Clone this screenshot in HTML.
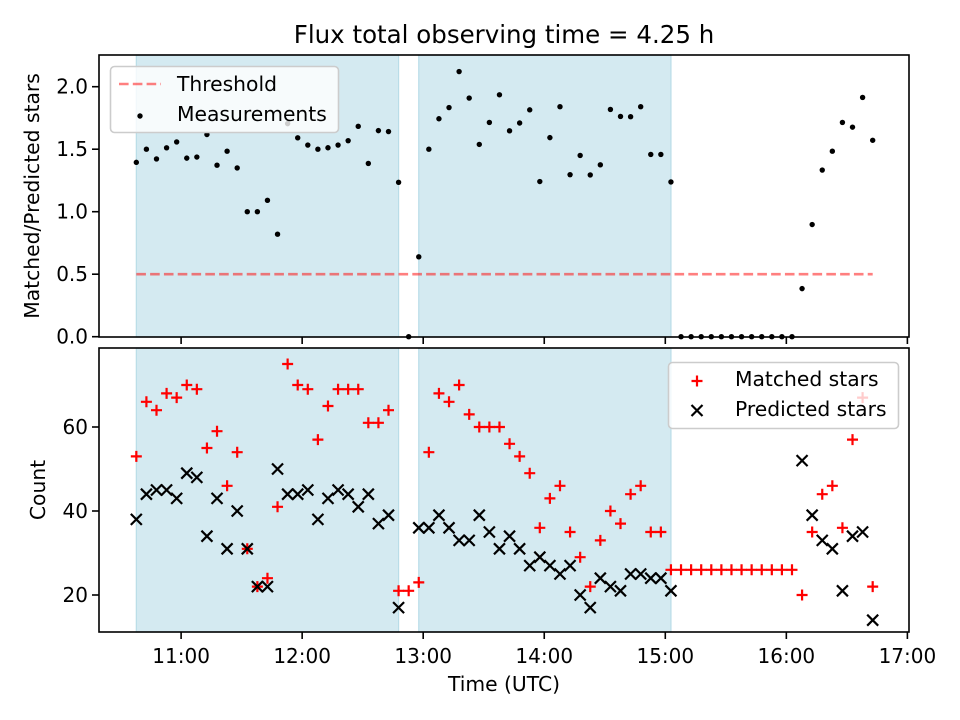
<!DOCTYPE html>
<html><head><meta charset="utf-8">
<style>
html,body{margin:0;padding:0;background:#fff;}
svg{display:block;font-family:"DejaVu Sans","Liberation Sans",sans-serif;}
</style></head>
<body>
<svg id="chart" width="960" height="720" viewBox="0 0 960 720" xmlns="http://www.w3.org/2000/svg">
<text x="504" y="43" font-size="24.5" text-anchor="middle">Flux total observing time = 4.25 h</text>
<g id="topPanel"></g>
<g id="botPanel"></g>
<text x="504" y="691" font-size="20.3" text-anchor="middle">Time (UTC)</text>
<text transform="translate(39,196) rotate(-90)" font-size="20.3" text-anchor="middle">Matched/Predicted stars</text>
<text transform="translate(45,490) rotate(-90)" font-size="20.3" text-anchor="middle">Count</text>
</svg>
<script>
// minutes after 10:00 for first sample, sampling step (min)
const startMinute = 37.8;
const stepMinutes = 5;
const matched = [53,66,64,68,67,70,69,55,59,46,54,31,22,24,41,75,70,69,57,65,69,69,69,61,61,64,21,
  21,
  23,54,68,66,70,63,60,60,60,56,53,49,36,43,46,35,29,22,33,40,37,44,46,35,35,26,
  26,26,26,26,26,26,26,26,26,26,26,26,
  20,35,44,46,36,57,67,22];
const predicted = [38,44,45,45,43,49,48,34,43,31,40,31,22,22,50,44,44,45,38,43,45,44,41,44,37,39,17,
  null,
  36,36,39,36,33,33,39,35,31,34,31,27,29,27,25,27,20,17,24,22,21,25,25,24,24,21,
  null,null,null,null,null,null,null,null,null,null,null,null,
  52,39,33,31,21,34,35,14];
const threshold = 0.5;
const spanStarts = [37.8, 177.8];
const spanEnds = [167.8, 302.8];
const xTickMinutes = [60,120,180,240,300,360,420];
const xTickLabels = ["11:00","12:00","13:00","14:00","15:00","16:00","17:00"];
const topYTicks = [0,0.5,1.0,1.5,2.0];
const topYTickLabels = ["0.0","0.5","1.0","1.5","2.0"];
const botYTicks = [20,40,60];
const botYTickLabels = ["20","40","60"];

const NS="http://www.w3.org/2000/svg";
const L=99,R=909;
const T1=55,B1=337,T2=348,B2=632;
const xMin=19.3,xMax=420.8;
function x(t){return L+(t-xMin)/(xMax-xMin)*(R-L);}
function yTop(v){return 336.7-v*125;}
function yBot(v){return 679-v*4.2;}
function mk(tag,attrs,parent){const e=document.createElementNS(NS,tag);for(const k in attrs)e.setAttribute(k,attrs[k]);parent.appendChild(e);return e;}
const times=matched.map((_,i)=>startMinute+i*stepMinutes);
const ratio=matched.map((m,i)=>predicted[i]?m/predicted[i]:0);

function axes(g,T,B,name){
  for(let i=0;i<spanStarts.length;i++){
    const r=mk('rect',{x:x(spanStarts[i]),y:T,width:x(spanEnds[i])-x(spanStarts[i]),height:B-T,fill:'#d4eaf1',stroke:'#b9dde8','stroke-width':1.2},g);
    
    
  }
  xTickMinutes.forEach((t,i)=>{
    mk('line',{x1:x(t),x2:x(t),y1:B,y2:B+7,stroke:'#000','stroke-width':1.6},g);
  });
}
const gTop=document.getElementById('topPanel'), gBot=document.getElementById('botPanel');
axes(gTop,T1,B1,'top');
axes(gBot,T2,B2,'bottom');

const th=mk('line',{x1:x(times[0]),x2:x(times[times.length-1]),y1:yTop(threshold),y2:yTop(threshold),stroke:'#ff0000','stroke-opacity':0.5,'stroke-width':2.6,'stroke-dasharray':'9.6,4.2'},gTop);


ratio.forEach((v,i)=>{
  const c=mk('circle',{cx:x(times[i]),cy:yTop(v),r:2.7,fill:'#000'},gTop);
  
  
});
matched.forEach((v,i)=>{
  const cx=x(times[i]),cy=yBot(v),s=5.5;
  const p=mk('path',{d:`M${cx-s},${cy}H${cx+s}M${cx},${cy-s}V${cy+s}`,stroke:'#ff0000','stroke-width':2.2,fill:'none'},gBot);
  
  
});
predicted.forEach((v,i)=>{
  if(v===null)return;
  const cx=x(times[i]),cy=yBot(v),s=5.5;
  const p=mk('path',{d:`M${cx-s},${cy-s}L${cx+s},${cy+s}M${cx-s},${cy+s}L${cx+s},${cy-s}`,stroke:'#000','stroke-width':2.2,fill:'none'},gBot);
  
  
});

function frame(g,T,B,ticks,labels,yf,name){
  mk('rect',{x:L,y:T,width:R-L,height:B-T,fill:'none',stroke:'#000','stroke-width':1.6},g);
  ticks.forEach((v,i)=>{
    mk('line',{x1:L-7,x2:L,y1:yf(v),y2:yf(v),stroke:'#000','stroke-width':1.6},g);
    const t=mk('text',{x:L-11,y:yf(v)+7,'font-size':20,'text-anchor':'end'},g);
    t.textContent=labels[i];
    
    
  });
}
frame(gTop,T1,B1,topYTicks,topYTickLabels,yTop,'top');
frame(gBot,T2,B2,botYTicks,botYTickLabels,yBot,'bottom');
xTickMinutes.forEach((t,i)=>{
  const tx=mk('text',{x:x(t),y:663,'font-size':20,'text-anchor':'middle'},gBot);
  tx.textContent=xTickLabels[i];
  
  
});

const lg1=mk('g',{},gTop);


mk('rect',{x:110.5,y:66.5,width:228,height:66,rx:4,fill:'#fff','fill-opacity':0.8,stroke:'#cccccc','stroke-width':1.6},lg1);
mk('line',{x1:119,x2:161,y1:84,y2:84,stroke:'#ff0000','stroke-opacity':0.5,'stroke-width':2.6,'stroke-dasharray':'9.6,4.2'},lg1);
let t1=mk('text',{x:177,y:91,'font-size':20.3},lg1);t1.textContent='Threshold';
mk('circle',{cx:140,cy:116,r:2.7,fill:'#000'},lg1);
let t2=mk('text',{x:177,y:121,'font-size':20.3},lg1);t2.textContent='Measurements';

const lg2=mk('g',{},gBot);


mk('rect',{x:668.5,y:362.5,width:230,height:66,rx:4,fill:'#fff','fill-opacity':0.8,stroke:'#cccccc','stroke-width':1.6},lg2);
mk('path',{d:'M691.5,381H702.5M697,375.5V386.5',stroke:'#ff0000','stroke-width':2.2},lg2);
let t3=mk('text',{x:735,y:386,'font-size':20.3},lg2);t3.textContent='Matched stars';
mk('path',{d:'M691.5,405L702.5,416M691.5,416L702.5,405',stroke:'#000','stroke-width':2.2},lg2);
let t4=mk('text',{x:735,y:416,'font-size':20.3},lg2);t4.textContent='Predicted stars';
</script>
</body></html>
